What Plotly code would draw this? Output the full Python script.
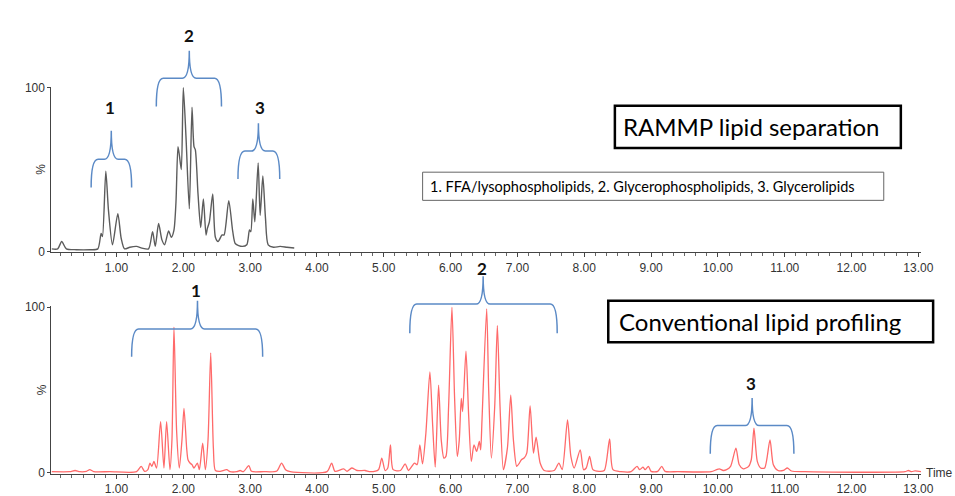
import plotly.graph_objects as go

# ---------------- data ----------------
top_time = [0.03, 0.12, 0.18, 0.25, 0.40, 0.60, 0.72, 0.77, 0.79, 0.84, 0.88, 0.94, 1.02, 1.07, 1.12,
            1.20, 1.30, 1.38, 1.48, 1.54, 1.58, 1.63, 1.68, 1.72, 1.78, 1.82, 1.86, 1.89, 1.92, 1.94,
            1.97, 2.00, 2.04, 2.09, 2.13, 2.16, 2.18, 2.22, 2.26, 2.30, 2.34, 2.36, 2.39, 2.44, 2.48,
            2.52, 2.58, 2.61, 2.68, 2.74, 2.78, 2.88, 2.95, 2.99, 3.01, 3.04, 3.07, 3.12, 3.15, 3.19,
            3.23, 3.27, 3.35, 3.45, 3.55, 3.66]
top_pct = [1.5, 1.5, 6, 1.5, 1.0, 1.0, 1.5, 11, 9, 49, 25, 4, 23, 8, 1.5,
           2.5, 3, 2, 1.5, 12, 3, 17, 7, 4, 12.5, 8.6, 13, 30, 64, 59,
           50, 100, 70, 26, 88, 64, 62, 35, 14.5, 32, 10, 14, 18, 35, 8.6,
           6, 10, 10, 31, 12, 4.6, 3, 4, 13, 12, 32, 18, 54, 22, 46,
           20, 4, 2.5, 3, 2.5, 2]

bot_time = [0.03, 0.30, 0.38, 0.45, 0.55, 0.60, 0.66, 0.90, 1.30, 1.37, 1.42, 1.47, 1.50, 1.53, 1.56,
            1.60, 1.66, 1.71, 1.75, 1.80, 1.83, 1.86, 1.90, 1.94, 1.98, 2.01, 2.05, 2.07, 2.10, 2.13,
            2.16, 2.21, 2.24, 2.29, 2.33, 2.37, 2.41, 2.45, 2.48, 2.55, 2.65, 2.70, 2.80, 2.85, 2.90,
            2.98, 3.02, 3.20, 3.40, 3.47, 3.53, 3.60, 4.15, 4.22, 4.27, 4.40, 4.45, 4.52, 4.60, 4.72,
            4.80, 4.92, 4.97, 5.02, 5.06, 5.10, 5.14, 5.25, 5.32, 5.37, 5.46, 5.50, 5.54, 5.58, 5.63,
            5.69, 5.73, 5.77, 5.82, 5.86, 5.90, 5.93, 5.97, 6.02, 6.06, 6.10, 6.13, 6.16, 6.18, 6.23,
            6.27, 6.31, 6.35, 6.39, 6.43, 6.45, 6.47, 6.54, 6.57, 6.61, 6.66, 6.70, 6.74, 6.79, 6.85,
            6.90, 6.94, 6.99, 7.03, 7.06, 7.10, 7.14, 7.19, 7.24, 7.28, 7.34, 7.40, 7.55, 7.62, 7.67,
            7.75, 7.80, 7.85, 7.94, 7.99, 8.03, 8.08, 8.13, 8.22, 8.30, 8.38, 8.43, 8.55, 8.70, 8.79,
            8.83, 8.88, 8.91, 8.96, 9.00, 9.10, 9.16, 9.21, 9.40, 9.90, 9.98, 10.02, 10.08, 10.13, 10.19,
            10.27, 10.32, 10.38, 10.46, 10.50, 10.54, 10.59, 10.64, 10.70, 10.78, 10.83, 10.90, 10.98, 11.04, 11.10,
            11.30, 12.80, 12.85, 12.90, 12.95, 13.04]
bot_pct = [0.8, 0.8, 1.5, 0.8, 1.0, 2.0, 0.8, 0.8, 0.8, 4, 1.0, 2, 6, 4, 7,
           3, 31, 3, 31, 2, 20, 88, 25, 3, 20, 39, 15, 8, 6, 5,
           3, 6, 2, 18, 2, 20, 72.5, 15, 1.5, 1, 2, 0.8, 0.8, 1.5, 0.8,
           4.5, 1, 0.8, 1.2, 6, 2, 0.8, 0.8, 6, 1, 2.5, 1, 3, 1.5, 1.5,
           0.8, 2, 9, 1.5, 3, 17, 2, 1.5, 5.5, 1.5, 6, 5, 17, 5.5, 24,
           61, 30, 3.5, 53, 20, 9, 10, 40, 100, 45, 10, 20, 45, 37, 73.5,
           35, 7, 17, 13, 19, 14, 32, 99, 50, 9, 40, 89, 40, 2, 15,
           47, 20, 4, 6, 8, 9, 12, 40.5, 12, 21.6, 6, 1.5, 1.5, 6, 2,
           32, 10, 3, 14, 2, 3, 10, 2, 1, 1.5, 20.6, 2, 0.8, 0.8, 4,
           2, 3.5, 2, 4, 1, 1, 4, 1, 0.8, 0.8, 2, 2.5, 1.5, 2, 4,
           15, 5, 2.5, 4, 8, 27, 7, 3, 3, 20, 5, 1.5, 1.5, 3, 1.2,
           0.8, 0.8, 1.5, 0.8, 1.3, 0.8]

x_tick_vals = [1, 2, 3, 4, 5, 6, 7, 8, 9, 10, 11, 12, 13]
x_tick_text = ["1.00", "2.00", "3.00", "4.00", "5.00", "6.00", "7.00", "8.00", "9.00",
               "10.00", "11.00", "12.00", "13.00"]
y_tick_vals = [0, 100]
y_tick_text = ["0", "100"]

group_labels = ["1", "2", "3"]
top_title = "RAMMP lipid separation"
bottom_title = "Conventional lipid profiling"
legend_text = "1. FFA/lysophospholipids, 2. Glycerophospholipids, 3. Glycerolipids"

# ---------------- layout helpers ----------------
W, H = 955, 496


def PX(x):
    return x / W


def PY(y):
    return 1 - y / H


BRACE = "#5b8ac6"
TICKFONT = dict(family="Liberation Sans, Arial, sans-serif", size=12, color="#333333")
LABELFONT = dict(family="Lato, Open Sans, sans-serif", size=17, color="#111111")
BOXFONT = "Lato, Open Sans, sans-serif"

fig = go.Figure()
fig.add_trace(go.Scatter(x=top_time, y=top_pct, mode="lines", xaxis="x", yaxis="y",
                         line=dict(color="#5c5c5c", width=1.4, shape="spline", smoothing=0.7),
                         hoverinfo="skip", showlegend=False))
fig.add_trace(go.Scatter(x=bot_time, y=bot_pct, mode="lines", xaxis="x2", yaxis="y2",
                         line=dict(color="#ff6a6a", width=1.3, shape="spline", smoothing=0.7),
                         hoverinfo="skip", showlegend=False))

xdom = [PX(52), PX(933)]
xrange = [0.025, 13.044]


def xaxis(anchor):
    return dict(domain=xdom, range=xrange, anchor=anchor, showgrid=False, zeroline=False,
                showline=True, linecolor="#444444", linewidth=1, ticks="outside", ticklen=4,
                tickcolor="#444444", tickvals=x_tick_vals, ticktext=x_tick_text, tickfont=TICKFONT,
                minor=dict(dtick=1 / 6, ticks="outside", ticklen=3, tickcolor="#666666"))


def yaxis(anchor, dom):
    return dict(domain=dom, range=[-0.5, 100.5], anchor=anchor, showgrid=False, zeroline=False,
                showline=True, linecolor="#444444", linewidth=1, ticks="outside", ticklen=3,
                tickcolor="#444444", tickvals=y_tick_vals, ticktext=y_tick_text, tickfont=TICKFONT)


fig.update_layout(
    width=W, height=H, margin=dict(l=0, r=0, t=0, b=0),
    paper_bgcolor="white", plot_bgcolor="white",
    xaxis=xaxis("y"), yaxis=yaxis("x", [PY(253.3), PY(83.2)]),
    xaxis2=xaxis("y2"), yaxis2=yaxis("x2", [PY(481.4), PY(309.1)]),
)

shapes = []
annotations = []


def brace(xl, xr, xc, ybot, yh, ytip):
    r = 7
    pts = [
        f"M {PX(xl)},{PY(ybot)}",
        f"Q {PX(xl)},{PY(yh)} {PX(xl + r)},{PY(yh)}",
        f"L {PX(xc - r)},{PY(yh)}",
        f"Q {PX(xc)},{PY(yh)} {PX(xc)},{PY(ytip)}",
        f"Q {PX(xc)},{PY(yh)} {PX(xc + r)},{PY(yh)}",
        f"L {PX(xr - r)},{PY(yh)}",
        f"Q {PX(xr)},{PY(yh)} {PX(xr)},{PY(ybot)}",
    ]
    shapes.append(dict(type="path", xref="paper", yref="paper", path=" ".join(pts),
                       line=dict(color=BRACE, width=1.5)))


def label(text, x, y):
    annotations.append(dict(text=f"<b>{text}</b>", x=PX(x), y=PY(y), xref="paper", yref="paper",
                            showarrow=False, font=LABELFONT, xanchor="center", yanchor="middle"))


# top panel braces
brace(92.3, 133.3, 112.7, 186.7, 157.7, 128.3); label(group_labels[0], 111, 104)
brace(158.3, 224.3, 191.7, 103.3, 74.3, 46); label(group_labels[1], 191, 30)
brace(241, 283.3, 261.7, 178, 149.3, 120.7); label(group_labels[2], 263, 104)
# bottom panel braces
brace(133.3, 266, 200, 361, 332.3, 303.3); label(group_labels[0], 198, 293)
brace(415, 564.3, 489.3, 336.7, 306.7, 278); label(group_labels[1], 488, 270)
brace(719.3, 804, 761.7, 460.7, 431.7, 403.3); label(group_labels[2], 761, 388)

# boxes
shapes.append(dict(type="rect", xref="paper", yref="paper", x0=PX(622.7), x1=PX(912.3),
                   y0=PY(146), y1=PY(102.7), line=dict(color="black", width=2.5)))
annotations.append(dict(text=top_title, x=PX(761), y=PY(124.5), xref="paper", yref="paper",
                        showarrow=False, font=dict(family=BOXFONT, size=24, color="black"),
                        xanchor="center", yanchor="middle"))
shapes.append(dict(type="rect", xref="paper", yref="paper", x0=PX(428), x1=PX(895),
                   y0=PY(200), y1=PY(171), line=dict(color="#666666", width=1)))
annotations.append(dict(text=legend_text, x=PX(433), y=PY(186), xref="paper", yref="paper",
                        showarrow=False, font=dict(family=BOXFONT, size=14.5, color="black"),
                        xanchor="left", yanchor="middle"))
shapes.append(dict(type="rect", xref="paper", yref="paper", x0=PX(616), x1=PX(945),
                   y0=PY(346), y1=PY(303.3), line=dict(color="black", width=2.5)))
annotations.append(dict(text=bottom_title, x=PX(770), y=PY(325), xref="paper", yref="paper",
                        showarrow=False, font=dict(family=BOXFONT, size=24, color="black"),
                        xanchor="center", yanchor="middle"))

# axis titles
for yy in (168, 395):
    annotations.append(dict(text="%", x=PX(42), y=PY(yy), xref="paper", yref="paper",
                            showarrow=False, textangle=-90, font=TICKFONT,
                            xanchor="center", yanchor="middle"))
annotations.append(dict(text="Time", x=PX(936), y=PY(481), xref="paper", yref="paper",
                        showarrow=False, font=TICKFONT, xanchor="left", yanchor="middle"))

fig.update_layout(shapes=shapes, annotations=annotations)
fig.write_html("out.html")
